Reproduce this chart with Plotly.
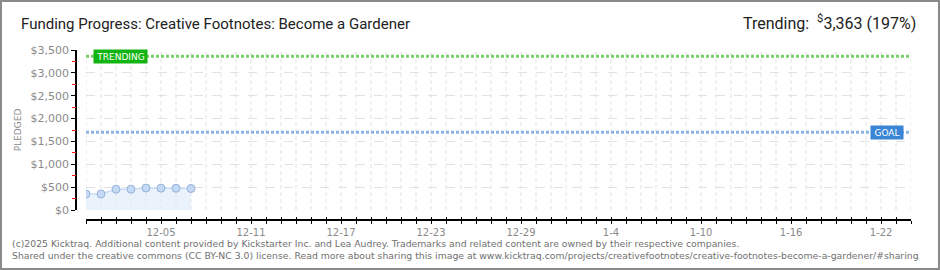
import pandas as pd
import plotly.graph_objects as go

# Daily pledge totals
dates = ["2024-11-30", "2024-12-01", "2024-12-02", "2024-12-03",
         "2024-12-04", "2024-12-05", "2024-12-06", "2024-12-07"]
pledged = [350, 350, 455, 455, 480, 478, 476, 470]

goal = 1700
trending = 3363
trending_pct = 197

x_start, x_end = "2024-11-30", "2025-01-24"

x_tick_dates = ["2024-12-05", "2024-12-11", "2024-12-17", "2024-12-23", "2024-12-29",
                "2025-01-04", "2025-01-10", "2025-01-16", "2025-01-22"]
x_tick_labels = ["12-05", "12-11", "12-17", "12-23", "12-29", "1-4", "1-10", "1-16", "1-22"]

y_tick_vals = [0, 500, 1000, 1500, 2000, 2500, 3000, 3500]
y_tick_labels = ["$0", "$500", "$1,000", "$1,500", "$2,000", "$2,500", "$3,000", "$3,500"]
y_minor_vals = [250, 750, 1250, 1750, 2250, 2750, 3250]

W, H = 940, 270
ML, MR, MT, MB = 76, 29, 50, 50
PW, PH = W - ML - MR, H - MT - MB


def px(x):
    return (x - ML) / PW


def py(y):
    return (H - MB - y) / PH


GRID = "#e2e2e2"
TICK_FONT = dict(family="DejaVu Sans", size=10, color="#8a8a8a")
Y_MAX = y_tick_vals[-1]

fig = go.Figure()

# vertical day grid, confined to the value range (the date axis sits below it)
grid_x, grid_y = [], []
for d in pd.date_range(x_start, x_end, freq="D"):
    grid_x += [d, d, None]
    grid_y += [0, Y_MAX, None]
fig.add_trace(go.Scatter(
    x=grid_x, y=grid_y, mode="lines",
    line=dict(color=GRID, width=1, dash="4px,3px"),
    hoverinfo="skip", showlegend=False,
))

# pledged area
fig.add_trace(go.Scatter(
    x=dates, y=pledged, mode="lines+markers", fill="tozeroy",
    fillcolor="rgba(222,235,251,0.65)",
    line=dict(color="#c9ddf5", width=1.5),
    marker=dict(size=8, color="#c3d9f5", line=dict(color="#97b3d6", width=1)),
    hoverinfo="skip", showlegend=False,
))

# trending and goal reference lines
fig.add_trace(go.Scatter(
    x=[x_start, x_end], y=[trending, trending], mode="lines",
    line=dict(color="#79cf6c", width=3, dash="3px,2px"),
    hoverinfo="skip", showlegend=False,
))
fig.add_trace(go.Scatter(
    x=[x_start, x_end], y=[goal, goal], mode="lines",
    line=dict(color="#8db3e2", width=3, dash="3px,2px"),
    hoverinfo="skip", showlegend=False,
))
# carriers for the inward half of the date ticks and the red half-step ticks
fig.add_trace(go.Scatter(x=[], y=[], xaxis="x2", showlegend=False, hoverinfo="skip"))
fig.add_trace(go.Scatter(x=[], y=[], yaxis="y2", showlegend=False, hoverinfo="skip"))

x_common = dict(
    type="date", range=[x_start, x_end], domain=[10 / PW, 1],
    anchor="free", position=0,
    tickmode="array", tickvals=x_tick_dates,
)

fig.update_layout(
    width=W, height=H,
    margin=dict(l=ML, r=MR, t=MT, b=MB),
    paper_bgcolor="white", plot_bgcolor="white",
    xaxis=dict(
        **x_common,
        ticktext=x_tick_labels,
        showline=True, linecolor="black", linewidth=1.5,
        ticks="outside", ticklen=3, tickcolor="black", tickwidth=1,
        tickfont=TICK_FONT,
        showgrid=False,
        minor=dict(dtick=86400000, tick0=x_start, ticks="outside", ticklen=3,
                   tickcolor="black", showgrid=False),
        zeroline=False,
    ),
    xaxis2=dict(
        **x_common,
        overlaying="x",
        showticklabels=False, showline=False, showgrid=False,
        ticks="inside", ticklen=3, tickcolor="black",
        minor=dict(dtick=86400000, tick0=x_start, ticks="inside", ticklen=3,
                   tickcolor="black", showgrid=False),
    ),
    yaxis=dict(
        range=[0, Y_MAX], domain=[10 / PH, 1],
        anchor="free", position=0,
        tickmode="array", tickvals=y_tick_vals, ticktext=y_tick_labels,
        showline=True, linecolor="black", linewidth=1.5,
        ticks="outside", ticklen=4, tickcolor="black",
        tickfont=dict(family="DejaVu Sans", size=11, color="#8a8a8a"),
        showgrid=True, gridcolor=GRID, griddash="dash",
        zeroline=False,
        title=dict(text="PLEDGED", font=dict(family="DejaVu Sans", size=9, color="#8a8a8a"),
                   standoff=6),
    ),
    yaxis2=dict(
        range=[0, Y_MAX], domain=[10 / PH, 1],
        anchor="free", position=0, overlaying="y",
        tickmode="array", tickvals=y_minor_vals, showticklabels=False,
        ticks="outside", ticklen=4, tickwidth=1, tickcolor="#ff1a1a",
        showline=False, showgrid=False, zeroline=False,
    ),
)

annotations = [
    dict(text="Funding Progress: Creative Footnotes: Become a Gardener",
         xref="paper", yref="paper", x=px(19), y=py(24), xanchor="left", yanchor="middle",
         showarrow=False, font=dict(family="Roboto", size=15, color="#222")),
    dict(text=f"Trending:  <sup>$</sup>{trending:,} ({trending_pct}%)",
         xref="paper", yref="paper", x=px(918), y=py(23), xanchor="right", yanchor="middle",
         showarrow=False, font=dict(family="Roboto", size=16, color="#222")),
    dict(text="TRENDING", xref="x", yref="y", x=x_start, y=trending,
         xanchor="left", yanchor="middle", xshift=7, showarrow=False,
         width=53, height=13, bgcolor="#12b412", borderpad=0,
         font=dict(family="DejaVu Sans", size=9, color="white")),
    dict(text="GOAL", xref="x", yref="y", x=x_end, y=goal,
         xanchor="right", yanchor="middle", xshift=-7, showarrow=False,
         width=32, height=13, bgcolor="#3a85d5", borderpad=0,
         font=dict(family="DejaVu Sans", size=9, color="white")),
    dict(text="(c)2025 Kicktraq. Additional content provided by Kickstarter Inc. and Lea Audrey. "
              "Trademarks and related content are owned by their respective companies.",
         xref="paper", yref="paper", x=px(10), y=py(243), xanchor="left", yanchor="middle",
         showarrow=False, font=dict(family="DejaVu Sans", size=9.3, color="#707070")),
    dict(text="Shared under the creative commons (CC BY-NC 3.0) license. Read more about sharing this image at "
              "www.kicktraq.com/projects/creativefootnotes/creative-footnotes-become-a-gardener/#sharing",
         xref="paper", yref="paper", x=px(10), y=py(255), xanchor="left", yanchor="middle",
         showarrow=False, font=dict(family="DejaVu Sans", size=9.3, color="#707070")),
]
fig.update_layout(annotations=annotations)

# outer frame
fig.add_shape(type="rect", xref="paper", yref="paper",
              x0=px(1), x1=px(939), y0=py(1), y1=py(269),
              line=dict(color="#8a8a8a", width=2), layer="above")

fig.write_html("out.html")
